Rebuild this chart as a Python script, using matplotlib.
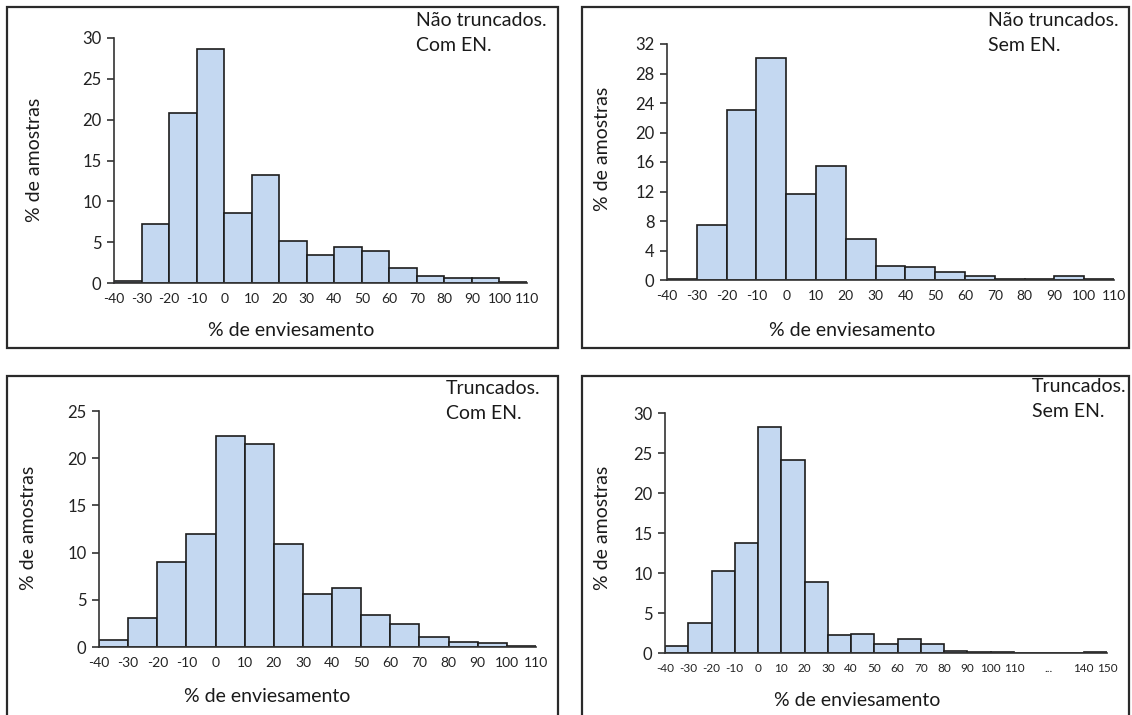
import numpy as np
import matplotlib
matplotlib.use("Agg")
import matplotlib.pyplot as plt
from matplotlib.patches import Rectangle

plt.rcParams['font.family'] = ['Lato', 'DejaVu Sans']

# bin edges (% de enviesamento)
edges_15 = list(range(-40, 111, 10))
edges_19 = list(range(-40, 151, 10))

# % de amostras in each 10-point bin
nt_com_en = [0.2, 7.2, 20.8, 28.7, 8.6, 13.2, 5.1, 3.4, 4.4, 3.9, 1.8, 0.9, 0.6, 0.6, 0.1]
nt_sem_en = [0.2, 7.5, 23.0, 30.1, 11.7, 15.5, 5.5, 1.9, 1.7, 1.1, 0.6, 0.1, 0.1, 0.5, 0.1]
t_com_en = [0.7, 3.1, 9.0, 12.0, 22.4, 21.5, 10.9, 5.6, 6.3, 3.4, 2.4, 1.1, 0.5, 0.4, 0.07]
t_sem_en = [0.9, 3.7, 10.3, 13.8, 28.2, 24.1, 8.9, 2.3, 2.4, 1.1, 1.7, 1.1, 0.2, 0.1, 0.1,
            0.03, 0.03, 0.03, 0.1]

ticks_15 = edges_15
labels_15 = [str(e) for e in edges_15]
# 120 and 130 are collapsed into "..."
ticks_19 = [e for e in edges_19 if e not in (120, 130)] + [125]
labels_19 = [str(e) for e in edges_19 if e not in (120, 130)] + ['...']

W, H = 1132, 715
BAR = '#c4d8f1'
EDGE = '#1c1c1c'

fig = plt.figure(figsize=(W / 100, H / 100), dpi=100)


def fx(x):
    return x / W


def fy(y):
    return 1 - y / H


def panel(frame, box, edges, vals, ymax, ystep, xticks, xlabels, title, title_xy,
          xlab_xy, ylab_xy, xtick_size=10):
    # outer chart border
    x0, y0, x1, y1 = frame
    fig.patches.append(Rectangle((fx(x0), fy(y1)), fx(x1 - x0), (y1 - y0) / H,
                                 transform=fig.transFigure, fill=False,
                                 edgecolor='#2a2a2a', linewidth=1.6))
    left, top, right, bottom = box
    ax = fig.add_axes([fx(left), fy(bottom), fx(right - left), (bottom - top) / H])
    ax.bar(edges[:-1], vals, width=10, align='edge', color=BAR,
           edgecolor=EDGE, linewidth=1.2)
    ax.set_xlim(edges[0], edges[-1])
    ax.set_ylim(0, ymax)
    ax.set_yticks(np.arange(0, ymax + 0.1, ystep))
    ax.set_xticks(xticks)
    ax.set_xticklabels(xlabels, fontsize=xtick_size)
    for s in ('top', 'right'):
        ax.spines[s].set_visible(False)
    for s in ('left', 'bottom'):
        ax.spines[s].set_color('#333333')
        ax.spines[s].set_linewidth(1.2)
    ax.tick_params(axis='y', direction='out', length=5, width=1.2,
                   color='#333333', labelsize=12, pad=4, labelcolor='#222222')
    ax.tick_params(axis='x', length=0, pad=7, labelcolor='#222222')
    ax.patch.set_alpha(0)
    fig.text(fx(title_xy[0]), fy(title_xy[1]), title, ha='left', va='top',
             fontsize=14, color='#1a1a1a', linespacing=1.6)
    fig.text(fx(xlab_xy[0]), fy(xlab_xy[1]), '% de enviesamento', ha='center',
             va='center', fontsize=14, color='#1a1a1a')
    fig.text(fx(ylab_xy[0]), fy(ylab_xy[1]), '% de amostras', ha='center',
             va='center', rotation=90, fontsize=14, color='#1a1a1a')
    return ax


panel((7, 7, 558, 348), (114, 38, 527, 283), edges_15, nt_com_en, 30, 5,
      ticks_15, labels_15, 'Não truncados.\nCom EN.', (416, 12), (291, 331), (34, 160))

panel((582, 7, 1129, 348), (667, 44, 1114, 280), edges_15, nt_sem_en, 32, 4,
      ticks_15, labels_15, 'Não truncados.\nSem EN.', (988, 12), (852, 330), (602, 149))

panel((7, 376, 558, 730), (99, 411, 536, 647), edges_15, t_com_en, 25, 5,
      ticks_15, labels_15, 'Truncados.\nCom EN.', (446, 380), (267, 697), (28, 528))

panel((582, 376, 1129, 730), (665, 413, 1107, 653), edges_19, t_sem_en, 30, 5,
      ticks_19, labels_19, 'Truncados.\nSem EN.', (1032, 378), (857, 700), (602, 528),
      xtick_size=8.5)

fig.savefig('out.png', dpi=100)
